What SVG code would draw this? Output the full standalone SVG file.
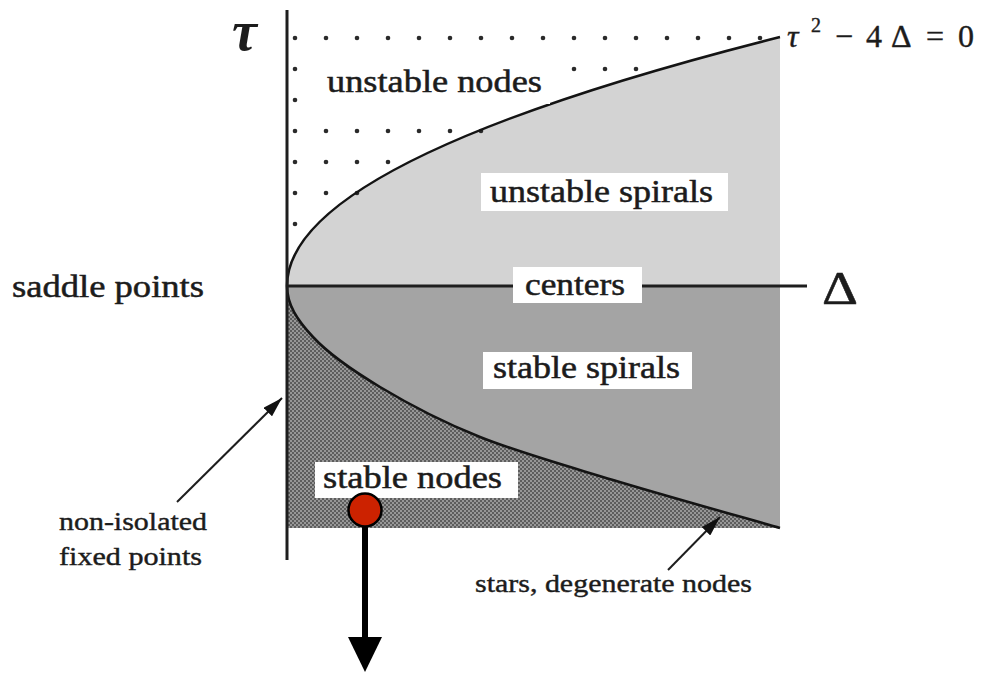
<svg xmlns="http://www.w3.org/2000/svg" width="984" height="674" viewBox="0 0 984 674">
<style>
.lbl{font-family:"Liberation Serif","Times New Roman",serif;font-size:31px;fill:#1c1c1c;stroke:#1c1c1c;stroke-width:0.5;}
.sm{font-family:"Liberation Serif","Times New Roman",serif;font-size:25px;fill:#1c1c1c;stroke:#1c1c1c;stroke-width:0.4;}
.box{fill:#ffffff;}
.curve{fill:none;stroke:#141414;stroke-width:2.6;}
.axis{stroke:#1e1e1e;stroke-width:3;fill:none;}
.dot{fill:#2a2a2a;}
.ptr{stroke:#1e1e1e;stroke-width:2;fill:none;}
</style>
<defs>
<pattern id="stipple" width="4" height="4" patternUnits="userSpaceOnUse">
<rect width="4" height="4" fill="#979797"/>
<circle cx="1" cy="1" r="1" fill="#4a4a4a"/>
<circle cx="3" cy="3" r="1" fill="#4a4a4a"/>
</pattern>
<marker id="ptrhead" viewBox="0 0 20 12" refX="20" refY="6" markerWidth="20" markerHeight="12" markerUnits="userSpaceOnUse" orient="auto">
<path d="M0,0 L20,6 L0,12 Z" fill="#111"/>
</marker>
<marker id="bighead" viewBox="0 0 35 34" refX="0" refY="17" markerWidth="35" markerHeight="34" markerUnits="userSpaceOnUse" orient="auto">
<path d="M0,0 L35,17 L0,34 Z" fill="#000"/>
</marker>
</defs>
<rect width="984" height="674" fill="#ffffff"/>
<g id="regions">
<path d="M287,286 Q287,161.5 780,37 L780,286 Z" fill="#d3d3d3"/>
<path d="M287,286 L780,286 L780,528 C752.2,520 663,495.2 613,480 C563,464.8 518.8,452.5 480,437 C441.2,421.5 407.8,403.7 380,387 C352.2,370.3 328.5,353.8 313,337 C297.5,320.2 287,305 287,286 Z" fill="#a4a4a4"/>
<path d="M287,286 C287,305 297.5,320.2 313,337 C328.5,353.8 352.2,370.3 380,387 C407.8,403.7 441.2,421.5 480,437 C518.8,452.5 563,464.8 613,480 C663,495.2 752.2,520 780,528 L287,528 Z" fill="url(#stipple)"/>
</g>
<g id="dots">
<circle class="dot" cx="295" cy="38" r="2.3"/><circle class="dot" cx="326" cy="38" r="2.3"/><circle class="dot" cx="357" cy="38" r="2.3"/><circle class="dot" cx="388" cy="38" r="2.3"/><circle class="dot" cx="419" cy="38" r="2.3"/><circle class="dot" cx="450" cy="38" r="2.3"/><circle class="dot" cx="481" cy="38" r="2.3"/><circle class="dot" cx="512" cy="38" r="2.3"/><circle class="dot" cx="543" cy="38" r="2.3"/><circle class="dot" cx="574" cy="38" r="2.3"/><circle class="dot" cx="605" cy="38" r="2.3"/><circle class="dot" cx="636" cy="38" r="2.3"/><circle class="dot" cx="667" cy="38" r="2.3"/><circle class="dot" cx="698" cy="38" r="2.3"/><circle class="dot" cx="729" cy="38" r="2.3"/><circle class="dot" cx="760" cy="38" r="2.3"/>
<circle class="dot" cx="295" cy="69" r="2.3"/><circle class="dot" cx="574" cy="69" r="2.3"/><circle class="dot" cx="605" cy="69" r="2.3"/><circle class="dot" cx="636" cy="69" r="2.3"/>
<circle class="dot" cx="295" cy="100" r="2.3"/>
<circle class="dot" cx="295" cy="131" r="2.3"/><circle class="dot" cx="326" cy="131" r="2.3"/><circle class="dot" cx="357" cy="131" r="2.3"/><circle class="dot" cx="388" cy="131" r="2.3"/><circle class="dot" cx="419" cy="131" r="2.3"/><circle class="dot" cx="450" cy="131" r="2.3"/><circle class="dot" cx="481" cy="131" r="2.3"/>
<circle class="dot" cx="295" cy="162" r="2.3"/><circle class="dot" cx="326" cy="162" r="2.3"/><circle class="dot" cx="357" cy="162" r="2.3"/><circle class="dot" cx="388" cy="162" r="2.3"/>
<circle class="dot" cx="295" cy="193" r="2.3"/><circle class="dot" cx="326" cy="193" r="2.3"/><circle class="dot" cx="357" cy="193" r="2.3"/>
<circle class="dot" cx="295" cy="224" r="2.3"/>
</g>
<g id="curves">
<path class="curve" d="M287,286 Q287,161.5 780,37"/>
<path class="curve" d="M287,286 C287,305 297.5,320.2 313,337 C328.5,353.8 352.2,370.3 380,387 C407.8,403.7 441.2,421.5 480,437 C518.8,452.5 563,464.8 613,480 C663,495.2 752.2,520 780,528"/>
</g>
<g id="axes">
<line class="axis" x1="287" y1="10" x2="287" y2="560"/>
<line class="axis" x1="287" y1="286" x2="807" y2="286" stroke-width="2.6"/>
</g>
<g id="axis-labels">
<text x="232" y="50" font-family="Liberation Serif, serif" font-size="56" font-style="italic" font-weight="bold" fill="#1c1c1c">τ</text>
<text x="822" y="304" font-family="Liberation Serif, serif" font-size="46" fill="#1c1c1c" stroke="#1c1c1c" stroke-width="0.5" textLength="36" lengthAdjust="spacingAndGlyphs">Δ</text>
</g>
<g id="equation">
<text font-family="Liberation Serif, serif" font-size="32" fill="#1c1c1c" stroke="#1c1c1c" stroke-width="0.4"><tspan x="787" y="47" font-style="italic">τ</tspan><tspan x="811" y="32" font-size="20">2</tspan><tspan x="835" y="47">−</tspan><tspan x="866" y="47">4</tspan><tspan x="891" y="47">Δ</tspan><tspan x="926" y="47">=</tspan><tspan x="958" y="47">0</tspan></text>
</g>
<g id="node-unstable-nodes">
<rect class="box" x="318" y="64" width="232" height="40"/>
<text class="lbl" x="327" y="92" textLength="215" lengthAdjust="spacingAndGlyphs">unstable nodes</text>
</g>
<g id="node-unstable-spirals">
<rect class="box" x="481" y="173" width="247" height="38"/>
<text class="lbl" x="490" y="202" textLength="223" lengthAdjust="spacingAndGlyphs">unstable spirals</text>
</g>
<g id="node-centers">
<rect class="box" x="513" y="267" width="129" height="36"/>
<text class="lbl" x="525" y="295" textLength="100" lengthAdjust="spacingAndGlyphs">centers</text>
</g>
<g id="node-stable-spirals">
<rect class="box" x="483" y="352" width="209" height="37"/>
<text class="lbl" x="493" y="378" textLength="187" lengthAdjust="spacingAndGlyphs">stable spirals</text>
</g>
<g id="node-stable-nodes">
<rect class="box" x="315" y="462" width="203" height="36"/>
<text class="lbl" x="323" y="488" textLength="179" lengthAdjust="spacingAndGlyphs">stable nodes</text>
</g>
<g id="node-saddle-points">
<text class="lbl" x="12" y="297" textLength="192" lengthAdjust="spacingAndGlyphs">saddle points</text>
</g>
<g id="node-non-isolated">
<text class="sm" x="59" y="530" textLength="148" lengthAdjust="spacingAndGlyphs">non-isolated</text>
<text class="sm" x="59" y="565" textLength="143" lengthAdjust="spacingAndGlyphs">fixed points</text>
</g>
<g id="node-stars">
<text class="sm" x="475" y="592" textLength="277" lengthAdjust="spacingAndGlyphs">stars, degenerate nodes</text>
</g>
<g id="connectors">
<line class="ptr" x1="177" y1="502" x2="282" y2="398" marker-end="url(#ptrhead)"/>
<line class="ptr" x1="668" y1="570" x2="720" y2="517" marker-end="url(#ptrhead)"/>
<line x1="365" y1="520" x2="365" y2="637" stroke="#000" stroke-width="6" marker-end="url(#bighead)"/>
</g>
<g id="node-red-dot">
<circle cx="365" cy="510" r="16.5" fill="#cc2200" stroke="#000" stroke-width="2.5"/>
</g>
</svg>
